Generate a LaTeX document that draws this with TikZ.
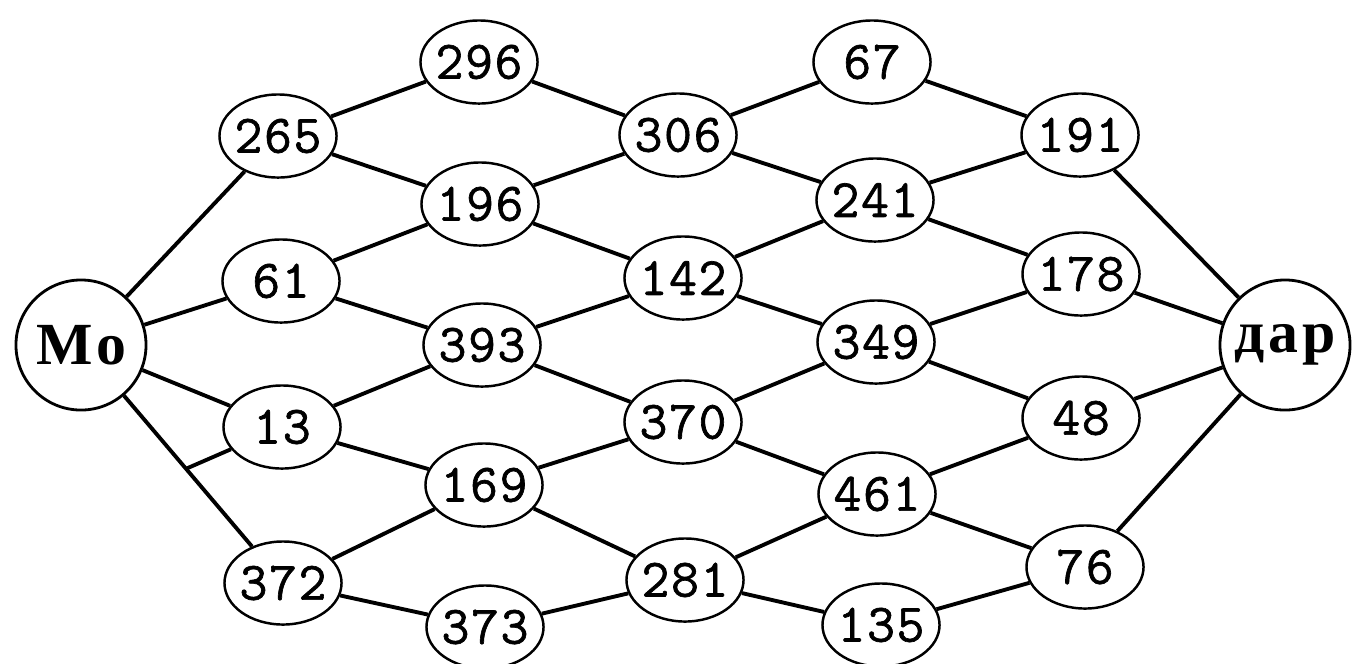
\documentclass[tikz,border=0pt]{standalone}
\usepackage{fontspec}
\newfontfamily\numfont[FakeBold=1.2,LetterSpace=3]{Latin Modern Mono}
\newfontfamily\cityfont[LetterSpace=6]{Liberation Serif}
\usetikzlibrary{shapes.geometric,calc}
\tikzset{num/.style={draw,ellipse,line width=0.7pt,minimum width=1.17cm,minimum height=0.83cm,inner xsep=-2pt,inner ysep=0pt,font=\fontsize{15.4}{17}\selectfont\numfont},
city/.style={draw,circle,line width=0.8pt,minimum size=1.3cm,inner sep=0pt,font=\fontsize{17}{19}\selectfont\cityfont\bfseries},
road/.style={line width=1.1pt}}

\begin{document}
\begin{tikzpicture}[x=0.01cm,y=-0.01cm]
\useasboundingbox (0,0) rectangle (1361,663);
\node[city] (Mo) at (81,345) {Mo};\node[city] (dar) at (1285,345) {дар};
% numbered stops, column by column
\foreach \n/\x/\y in {265/278/136,61/281/281,13/282/427,372/283/583,
  296/479/62,196/480/204,393/482/345,169/484/485,373/485/627,
  306/678/135,142/683/278,370/683/422,281/685/580,
  67/872/62,241/875/200,349/876/342,461/877/494,135/881/625,
  191/1080/135,178/1081/274,48/1081/418,76/1085/567}
  \node[num] (n\n) at (\x,\y) {\n};
\coordinate (j) at ($(Mo)!0.52!(n372)$);
\foreach \a/\b in {Mo/n265,Mo/n61,Mo/n13,Mo/n372,n13/j,
  n265/n296,n265/n196,n61/n196,n61/n393,n13/n393,n13/n169,n372/n169,n372/n373,
  n296/n306,n196/n306,n196/n142,n393/n142,n393/n370,n169/n370,n169/n281,n373/n281,
  n306/n67,n306/n241,n142/n241,n142/n349,n370/n349,n370/n461,n281/n461,n281/n135,
  n67/n191,n241/n191,n241/n178,n349/n178,n349/n48,n461/n48,n461/n76,n135/n76,
  n191/dar,n178/dar,n48/dar,n76/dar}
  \draw[road] (\a)--(\b);
\end{tikzpicture}
\end{document}
